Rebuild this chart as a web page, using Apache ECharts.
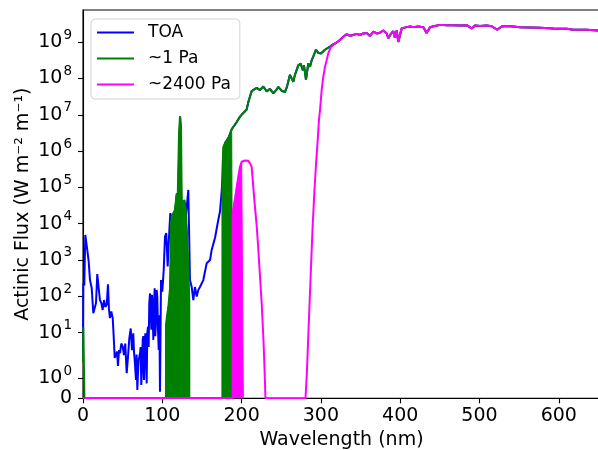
<!DOCTYPE html>
<html><head><meta charset="utf-8">
<script src="https://cdn.jsdelivr.net/npm/echarts@6/dist/echarts.min.js"></script>
<style>html,body{margin:0;padding:0;background:#fff}#c{width:598px;height:450px}</style>
</head><body><div id="c"></div>
<script>
// ---- data (wavelength in nm, actinic flux in W m^-2 m^-1) ----
const toaWl = [0, 0.4, 1.6, 2.9, 3.8, 5.4, 7.2, 8.8, 11.0, 13.0,
  14.8, 16.4, 18.0, 19.8, 21.4, 23.1, 24.8, 26.5, 28.1, 29.9,
  31.5, 32.8, 34.0, 35.7, 37.5, 38.7, 40.0, 41.6, 42.9, 44.1,
  45.4, 46.7, 48.3, 50.1, 51.7, 53.3, 55.1, 56.7, 58.4, 60.2,
  61.8, 63.4, 64.3, 65.2, 66.8, 67.6, 68.5, 69.3, 70.2, 71.9, 72.7, 73.5, 74.4, 75.3, 76.1, 76.9, 77.7,
  78.6, 79.4, 80.3, 81.1, 82.0, 82.8, 83.6, 84.5, 85.4, 86.2, 87.0, 87.8, 88.7, 89.5, 90.4, 91.2, 92.1, 92.9, 93.7, 94.6,
  95.5, 96.3, 97.1, 98.4, 100.0, 101.8, 103.4, 105.0, 106.8, 108.4, 110.1,
  112.2, 113.9, 116.0, 118.2, 120.2, 122.6, 124.2, 127.7, 129.9, 132.8, 134.0,
  134.9, 137.1, 139.1, 141.2, 143.4, 145.4, 147.5, 151.7, 156.0, 160.2,
  162.3, 166.5, 170.6, 172.8, 174.9, 176.9];
const toaFlux = [2.2, 230, 200, 4900, 4900, 1900, 890, 280, 166, 34,
  30, 65, 410, 166, 79, 65, 42, 79, 51, 58,
  214, 42, 25, 38, 25, 7.8, 2.0, 2.1, 3.0, 1.6,
  3.3, 2.7, 5.0, 4.1, 2.4, 5.0, 1.24, 2.06, 6.9, 13,
  3.3, 9.5, 3.0, 1.9, 0.91, 2.5, 0.41, 1.2, 1.9, 2.7, 4.0, 0.66, 1.5, 6.3, 8.0, 0.91, 2.0,
  9.5, 3.0, 0.74, 10, 14.5, 4.0, 65, 120, 34, 12, 110, 40, 6.3, 60, 166, 8.0, 22, 150, 98, 12,
  3.3, 30, 0.33, 280, 135, 525, 4400, 5500, 660, 4000, 19500,
  17400, 9100, 20000, 62000, 54000, 8.9e6, 6600, 45000, 17400, 85000, 3500,
  280, 180, 79, 180, 98, 150, 180, 280, 810, 1000,
  1900, 4100, 12600, 22000, 79000, 4.0e5];

const pa1StartWl = [0, 0.4, 1.8];
const pa1StartFlux = [1.8, 14, 0];
const band1Wl = [104.6, 104.7, 105.9, 107.6, 109.7, 111.0, 111.9, 113.9, 116.0, 118.2, 119.4,
  121.1, 122.3, 123.6, 124.5, 126.5, 127.7, 129.5, 131.1, 132.8, 134.0, 134.1];
const band1Flux = [0, 16, 28, 50, 160, 8000, 16000, 19500, 24000, 69000, 45000,
  3.1e6, 8.9e6, 4.7e6, 45000, 29500, 45000, 24000, 5500, 660, 79, 0];
const band2Wl = [175.8, 175.9, 176.9, 179.1, 181.6, 184.1, 187.5, 188.8, 188.9];
const band2Flux = [0, 3.2e5, 1.26e6, 1.66e6, 2.0e6, 2.5e6, 4.0e6, 4.5e6, 0];
const tailWl = [193.8, 198.0, 202.1, 206.4, 208.4, 210.6, 212.7, 214.8, 219.0, 223.2,
  227.4, 231.7, 235.8, 240.0, 244.3, 246.3, 250.6, 254.7, 257.3, 261.0,
  265.2, 267.3, 271.5, 274.5, 277.1, 278.7, 281.2, 284.1, 286.3, 288.4,
  290.4, 293.8, 296.7, 300.1, 305.2, 311.5, 315.6];
const tailFlux = [6.3e6, 8.9e6, 1.12e7, 1.4e7, 2.2e7, 3.2e7, 4.5e7, 4.2e7, 5.5e7, 4.8e7,
  6.0e7, 4.4e7, 5.2e7, 3.9e7, 5.0e7, 5.9e7, 4.6e7, 4.2e7, 6.0e7, 1.26e8,
  8.1e7, 1.26e8, 2.3e8, 2.6e8, 1.7e8, 2.3e8, 9.1e7, 2.6e8, 2.1e8, 3.2e8,
  4.0e8, 6.2e8, 5.1e8, 4.9e8, 6.2e8, 7.6e8, 8.7e8];

const pa2400StartWl = [0];
const pa2400StartFlux = [0];
const band3Wl = [188.7, 188.8, 191.3, 193.8, 195.8, 198.0, 200.1, 202.1, 202.2];
const band3Flux = [0, 19500, 20000, 1.0e5, 1.95e5, 3.7e5, 5.1e5, 5.1e5, 0];
const humpWl = [204.3, 206.4, 208.4, 210.6, 212.7, 214.8, 216.3, 219.0, 221.1, 223.2,
  225.1, 227.4, 228.9, 230.1, 280.6];
const humpFlux = [5.5e5, 5.7e5, 5.4e5, 4.6e5, 3.7e5, 1.0e5, 4.0e4, 8900, 2000, 355,
  80, 7.9, 1.5, 0, 0];
const riseWl = [282.5, 284.4, 286.9, 289.4, 291.9, 294.2, 296.0, 297.6, 298.9, 301.0,
  303.0, 305.2, 307.3, 309.3, 312.4, 317.8];
const riseFlux = [1.4, 11.8, 280, 6700, 85000, 5.6e5, 2.0e6, 7.2e6, 1.35e7, 4.8e7,
  1.1e8, 2.1e8, 3.2e8, 4.9e8, 7.2e8, 9.3e8];

const commonWl = [319.9, 324.1, 328.2, 332.5, 336.7, 340.9, 345.1, 349.3, 353.5, 357.8,
  361.9, 366.1, 370.4, 374.5, 378.7, 383.0, 385.0, 388.0, 391.3, 393.4,
  395.6, 397.6, 399.7, 401.9, 403.9, 408.2, 412.4, 416.5, 422.8, 429.1,
  433.4, 437.6, 443.9, 450.2, 458.6, 467.0, 475.4, 483.9, 490.2, 494.3,
  500.6, 509.1, 515.4, 522.4, 528.0, 534.3, 542.6, 551.1, 563.7, 576.3,
  593.1, 610.0, 618.4, 635.2, 652];
const commonFlux = [9.8e8, 1.15e9, 1.41e9, 1.66e9, 1.5e9, 1.58e9, 1.7e9, 1.58e9, 1.74e9, 1.78e9,
  1.48e9, 1.95e9, 1.74e9, 1.82e9, 2.1e9, 1.74e9, 1.29e9, 1.66e9, 2.0e9, 1.32e9,
  2.1e9, 1.02e9, 1.12e9, 2.4e9, 2.7e9, 2.6e9, 2.7e9, 2.6e9, 2.7e9, 2.6e9,
  1.8e9, 2.6e9, 2.8e9, 3.0e9, 2.95e9, 2.95e9, 2.9e9, 2.95e9, 2.4e9, 2.9e9,
  2.8e9, 2.9e9, 2.75e9, 2.2e9, 2.7e9, 2.8e9, 2.7e9, 2.6e9, 2.55e9, 2.5e9,
  2.4e9, 2.35e9, 2.2e9, 2.2e9, 2.1e9];

const xTicks = [0, 100, 200, 300, 400, 500, 600];
const yTickValues = [0, 1, 10, 1e2, 1e3, 1e4, 1e5, 1e6, 1e7, 1e8, 1e9];
const yTickLabels = ['0', '10^0', '10^1', '10^2', '10^3', '10^4', '10^5', '10^6', '10^7', '10^8', '10^9'];
const seriesNames = ['TOA', '~1 Pa', '~2400 Pa'];

// ---- symlog scale (linthresh 2, linscale 1, base 10) ----
const LINTHRESH = 2, LINSCALE = 1 / (1 - 1 / 10);
function symlog(v) { return Math.abs(v) <= LINTHRESH ? v / LINTHRESH * LINSCALE : LINSCALE + Math.log10(v / LINTHRESH); }
function pairs(wl, fl) { return wl.map((w, i) => [w, symlog(fl[i])]); }

const toaData = [].concat(pairs(toaWl, toaFlux), pairs(band2Wl.slice(3, 8), band2Flux.slice(3, 8)),
  pairs(tailWl, tailFlux), pairs(commonWl, commonFlux));
const pa1Data = [].concat(pairs(pa1StartWl, pa1StartFlux), pairs(band1Wl, band1Flux),
  pairs(band2Wl.slice(0, 8), band2Flux.slice(0, 8)), pairs(tailWl, tailFlux), pairs(commonWl, commonFlux));
const pa2400Data = [].concat(pairs(pa2400StartWl, pa2400StartFlux), pairs(band3Wl.slice(0, 8), band3Flux.slice(0, 8)),
  pairs(humpWl, humpFlux), pairs(riseWl, riseFlux), pairs(commonWl, commonFlux));

const yTickPos = yTickValues.map(symlog);
const FONT = 'DejaVu Sans';
const BLUE = '#0000ff', GREEN = '#008000', MAGENTA = '#ff00ff';

function lineSeries(name, data, color, z) {
  return { name, type: 'line', data, showSymbol: false, symbol: 'none', z,
    lineStyle: { color, width: 2 }, itemStyle: { color }, animation: false };
}
function areaSeries(name, data, color, z) {
  return { name, type: 'line', data, showSymbol: false, symbol: 'none', z,
    lineStyle: { color, width: 1 }, itemStyle: { color },
    areaStyle: { color, opacity: 1 }, animation: false };
}

const chart = echarts.init(document.getElementById('c'), null, { renderer: 'canvas' });
chart.setOption({
  animation: false,
  textStyle: { fontFamily: FONT },
  grid: { left: 83, top: 10, width: 517, height: 388.3, containLabel: false, outerBoundsMode: 'none',
    show: true, borderColor: '#000', borderWidth: 1.1, backgroundColor: 'transparent' },
  legend: {
    data: seriesNames, orient: 'vertical', left: 91, top: 19,
    padding: [5, 9, 6, 6], itemWidth: 37, itemHeight: 2, itemGap: 9, icon: 'rect',
    backgroundColor: 'rgba(255,255,255,0.8)', borderColor: '#d3d3d3', borderWidth: 1, borderRadius: 4,
    textStyle: { fontSize: 17, color: '#000', fontFamily: FONT, padding: [0, 0, 0, 9] }
  },
  xAxis: {
    type: 'value', min: 0, max: 652,
    name: 'Wavelength (nm)', nameLocation: 'middle', nameGap: 32, nameMoveOverlap: false,
    nameTextStyle: { fontSize: 19, color: '#000', fontFamily: FONT },
    axisLine: { lineStyle: { color: '#000', width: 1.1 } },
    axisTick: { customValues: xTicks, inside: false, length: 5, lineStyle: { color: '#000', width: 1.1 } },
    axisLabel: { customValues: xTicks, margin: 8, fontSize: 19, color: '#000', fontFamily: FONT },
    splitLine: { show: false }
  },
  yAxis: {
    type: 'value', min: 0, max: 10.697,
    name: 'Actinic Flux (W m\u207B\u00B2 m\u207B\u00B9)', nameLocation: 'middle', nameGap: 50, nameMoveOverlap: false,
    nameTextStyle: { fontSize: 19, color: '#000', fontFamily: FONT },
    axisLine: { show: true, lineStyle: { color: '#000', width: 1.1 } },
    axisTick: { show: true, customValues: yTickPos, length: 5, lineStyle: { color: '#000', width: 1.1 } },
    axisLabel: {
      customValues: yTickPos, margin: 11, color: '#000',
      formatter: function (v) {
        const i = yTickPos.findIndex(p => Math.abs(p - v) < 1e-6);
        const t = i >= 0 ? yTickLabels[i] : '';
        const parts = t.split('^');
        return parts.length === 2 ? '{b|' + parts[0] + '}{s|' + parts[1] + '}' : '{b|' + t + '}';
      },
      rich: {
        b: { fontSize: 19, color: '#000', fontFamily: FONT },
        s: { fontSize: 13.5, color: '#000', fontFamily: FONT, verticalAlign: 'top', padding: [0, 0, 14, 1] }
      }
    },
    splitLine: { show: false }
  },
  series: [
    lineSeries('TOA', toaData, BLUE, 2),
    areaSeries('~1 Pa', pairs(band1Wl, band1Flux), GREEN, 3),
    areaSeries('~1 Pa', pairs(band2Wl, band2Flux), GREEN, 3),
    lineSeries('~1 Pa', pa1Data, GREEN, 3),
    areaSeries('~2400 Pa', pairs(band3Wl, band3Flux), MAGENTA, 4),
    lineSeries('~2400 Pa', pa2400Data, MAGENTA, 4)
  ]
});
</script></body></html>
